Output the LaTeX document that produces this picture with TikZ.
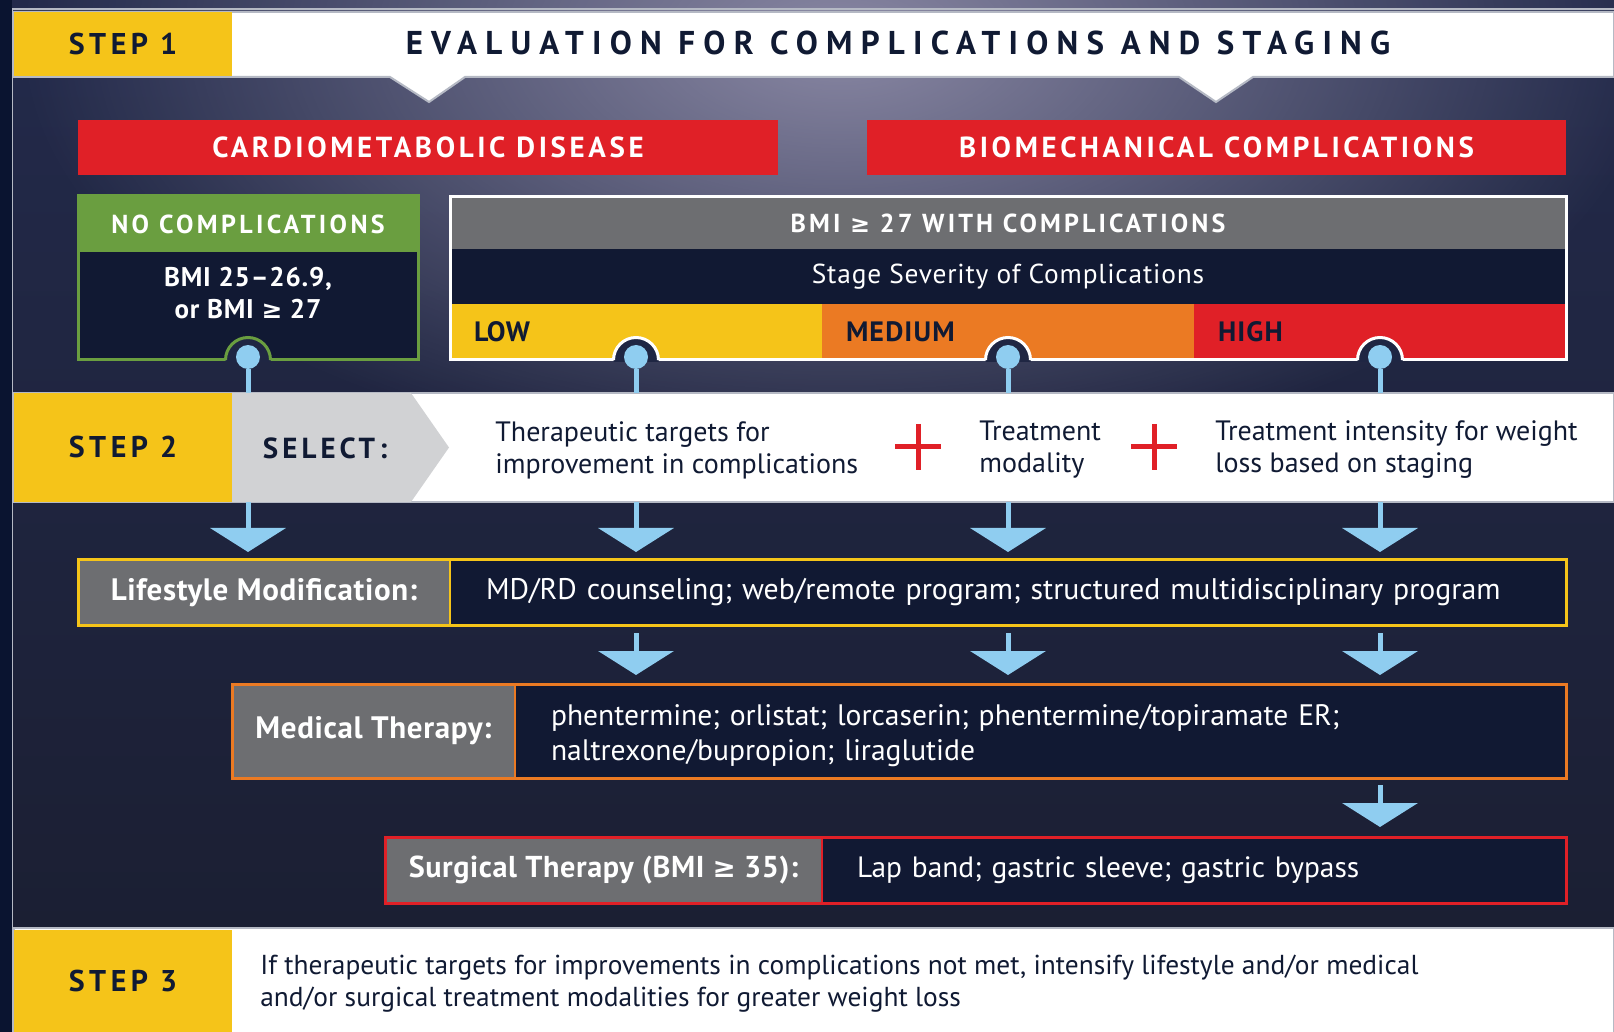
\documentclass[tikz,border=0pt]{standalone}
\usepackage{fontspec}
\setmainfont{PT Sans}
\newfontfamily\geqfont{DejaVu Sans}
\newcommand\geqsign{{\geqfont\addfontfeature{Scale=0.92}≥}}
\usetikzlibrary{positioning,arrows.meta,fadings}

\definecolor{bgtop}{HTML}{232A4B}
\definecolor{bgbottom}{HTML}{1B1F33}
\definecolor{notchc}{HTML}{1F2643}
\definecolor{glowc}{HTML}{8A88A4}
\definecolor{edgenavy}{HTML}{0A1430}
\definecolor{boxfill}{HTML}{111933}
\definecolor{inkc}{HTML}{101A33}
\definecolor{stepyellow}{HTML}{F5C419}
\definecolor{alertred}{HTML}{E02027}
\definecolor{okgreen}{HTML}{6A9E40}
\definecolor{headgray}{HTML}{6D6E71}
\definecolor{midorange}{HTML}{EB7A23}
\definecolor{skyblue}{HTML}{8FCDF0}
\definecolor{selgray}{HTML}{D1D2D4}
\definecolor{rulegray}{HTML}{B5B9C4}

\tikzfading[name=glowfade, inner color=transparent!0, outer color=transparent!100]

\tikzset{
  cell/.style={anchor=north west, inner sep=0pt, outer sep=0pt},
  steplbl/.style={cell, fill=stepyellow, text=inkc, minimum width=109pt,
    font=\fontsize{15}{17}\selectfont\bfseries\addfontfeature{LetterSpace=15}},
  capsbar/.style={cell, text=white,
    font=\fontsize{14.5}{16}\selectfont\bfseries\addfontfeature{LetterSpace=12.5}},
  darktxt/.style={inner sep=0pt, anchor=west, align=left, text=inkc,
    font=\fontsize{14}{16}\selectfont},
  tierlbl/.style={cell, text=inkc, inner xsep=12pt, text width=162pt, align=left,
    minimum height=28pt, font=\fontsize{14}{16}\selectfont\bfseries\addfontfeature{LetterSpace=4}},
  grylbl/.style={cell, fill=headgray, text=white,
    font=\fontsize{15.5}{18}\selectfont\bfseries\addfontfeature{LetterSpace=2}},
  darkcell/.style={cell, fill=boxfill, text=white, align=left},
  dot/.style={circle, fill=skyblue, inner sep=0pt, minimum size=12pt},
  stem/.style={draw=skyblue, line width=2.5pt},
  flow/.style={stem, -{Triangle[width=37.5pt,length=12pt]}},
  plus/.style={draw=alertred, line width=2.5pt}
}

\begin{document}
\begin{tikzpicture}[x=0.5pt, y=-0.5pt]
\useasboundingbox (0,0) rectangle (1614,1032);

% backdrop
\shade[top color=bgtop, bottom color=bgbottom] (0,0) rectangle (1614,930);
\fill[glowc, path fading=glowfade] (840,40) ellipse [x radius=820, y radius=430];
\fill[edgenavy] (0,0) rectangle (12,1032);
\draw[rulegray, line width=0.8pt] (12.5,1032) -- (12.5,9) -- (1614,9);

% step 1
\draw[fill=white, draw=rulegray, line width=1pt] (14,12) -- (1614,12) -- (1614,77) -- (1253,77)
  -- (1216,102) -- (1179,77) -- (465,77) -- (429,102) -- (390,77) -- (14,77) -- cycle;
\node[steplbl, minimum height=32pt] (step1) at (14,12) {STEP 1};
\node[text=inkc, inner sep=0pt, font=\fontsize{16.5}{18}\selectfont\bfseries\addfontfeature{LetterSpace=25}]
  (title) at (898,43) {EVALUATION FOR COMPLICATIONS AND STAGING};

\node[capsbar, fill=alertred, minimum width=350pt, minimum height=27.5pt] (cardio) at (78,120) {CARDIOMETABOLIC DISEASE};
\node[capsbar, fill=alertred, minimum width=349.5pt, minimum height=27.5pt] (biomech) at (867,120) {BIOMECHANICAL COMPLICATIONS};

% no complications
\node[capsbar, fill=okgreen, minimum width=170pt, minimum height=28pt,
  font=\fontsize{13}{15}\selectfont\bfseries\addfontfeature{LetterSpace=13}] (nohead) at (78,196) {NO COMPLICATIONS};
\node[cell, fill=boxfill, minimum width=170pt, minimum height=54pt] (nobody) at (78,252) {};
\node[text=white, inner sep=0pt, align=center, font=\fontsize{13.5}{16}\selectfont\bfseries\addfontfeature{LetterSpace=3}]
  (range) at (248,293) {BMI 25–26.9,\\or BMI \geqsign\ 27};
\draw[okgreen, line width=1.5pt] (nohead.north west) rectangle (nobody.south east);

% with complications
\node[capsbar, fill=headgray, minimum width=558pt, minimum height=26pt,
  font=\fontsize{13}{15}\selectfont\bfseries\addfontfeature{LetterSpace=12}] (bmihead) at (450,197) {BMI \geqsign\ 27 WITH COMPLICATIONS};
\node[cell, fill=boxfill, text=white, minimum width=558pt, minimum height=27.5pt,
  font=\fontsize{13.7}{16}\selectfont\addfontfeature{LetterSpace=3}] (stage) at (450,249) {Stage Severity of Complications};
\node[tierlbl, fill=stepyellow] (low) at (450,304) {LOW};
\node[tierlbl, fill=midorange] (medium) at (822,304) {MEDIUM};
\node[tierlbl, fill=alertred] (high) at (1194,304) {HIGH};
\draw[white, line width=1.5pt] (bmihead.north west) rectangle (high.south east);

% notches and dots
\foreach \px/\rim/\nm in {248/okgreen/dot0, 636/white/dot1, 1008/white/dot2, 1380/white/dot3}{
  \fill[notchc] (\px-22.5,362) -- (\px-22.5,360) arc[start angle=180, end angle=0, radius=11.25pt] -- (\px+22.5,362) -- cycle;
  \draw[\rim, line width=1.5pt] (\px-22.5,360) arc[start angle=180, end angle=0, radius=11.25pt];
  \node[dot] (\nm) at (\px,357) {};
}

% step 2
\node[cell, fill=white, draw=rulegray, line width=1pt, minimum width=800pt, minimum height=54.5pt] (band2) at (14,393) {};
\foreach \nm in {dot0,dot1,dot2,dot3}
  \draw[stem] (\nm) -- (\nm |- band2.north);
\node[steplbl, minimum height=54.5pt] (step2) at (14,393) {STEP 2};
\fill[selgray] (232,393) -- (411,393) -- (449,447.5) -- (411,502) -- (232,502) -- cycle;
\node[text=inkc, inner sep=0pt, font=\fontsize{14.5}{16}\selectfont\bfseries\addfontfeature{LetterSpace=14}] (select) at (325,448) {SELECT:};
\node[darktxt] (targets) at (495,450) {Therapeutic targets for\\improvement in complications};
\node[darktxt] (modality) at (979,450) {Treatment\\modality};
\node[darktxt] (intensity) at (1215,450) {Treatment intensity for weight\\loss based on staging};
\draw[plus] (918,424) -- (918,470) (895,447) -- (941,447);
\draw[plus] (1154,424) -- (1154,470) (1131,447) -- (1177,447);

% lifestyle
\node[grylbl, minimum width=186pt, minimum height=32.5pt] (lifelbl) at (78,560) {Lifestyle Modification:};
\node[darkcell, minimum height=32.5pt, text width=522pt, inner xsep=18pt,
  font=\fontsize{14.9}{17}\selectfont] (life) at (450,560) {MD/RD counseling; web/remote program; structured multidisciplinary program};
\draw[stepyellow, line width=1.5pt] (lifelbl.north west) rectangle (life.south east);
\draw[stepyellow, line width=1pt] (lifelbl.north east) -- (lifelbl.south east);

% medical
\node[grylbl, minimum width=141.5pt, minimum height=47pt] (medlbl) at (232,684) {Medical Therapy:};
\node[darkcell, minimum height=47pt, text width=489.5pt, inner xsep=18pt,
  font=\fontsize{14.8}{17.5}\selectfont] (med) at (515,684) {\rule{0pt}{15pt}phentermine; orlistat; lorcaserin; phentermine/topiramate ER;\\naltrexone/bupropion; liraglutide};
\draw[midorange, line width=1.5pt] (medlbl.north west) rectangle (med.south east);
\draw[midorange, line width=1pt] (medlbl.north east) -- (medlbl.south east);

% surgical
\node[grylbl, minimum width=218.5pt, minimum height=33pt,
  font=\fontsize{15.1}{18}\selectfont\bfseries\addfontfeature{LetterSpace=2}] (surglbl) at (385,837) {Surgical Therapy (BMI \geqsign\ 35):};
\node[darkcell, minimum height=33pt, text width=337pt, inner xsep=17.5pt,
  font=\fontsize{14.7}{17}\selectfont] (surg) at (822,837) {Lap band; gastric sleeve; gastric bypass};
\draw[alertred, line width=1.5pt] (surglbl.north west) rectangle (surg.south east);
\draw[alertred, line width=1pt] (surglbl.north east) -- (surglbl.south east);

% arrows
\draw[flow, shorten >=4pt] (dot0 |- band2.south) -- (dot0 |- lifelbl.north);
\foreach \nm in {dot1,dot2,dot3}{
  \draw[flow, shorten >=4pt] (\nm |- band2.south) -- (\nm |- life.north);
  \draw[flow, shorten <=4pt, shorten >=4.5pt] (\nm |- life.south) -- (\nm |- med.north);
}
\draw[flow, shorten <=3.5pt, shorten >=5pt] (dot3 |- med.south) -- (dot3 |- surg.north);

% step 3
\node[cell, fill=white, draw=rulegray, line width=1pt, minimum width=800pt, minimum height=53pt] (band3) at (14,928) {};
\node[steplbl, minimum height=51pt] (step3) at (14,930) {STEP 3};
\node[darktxt, font=\fontsize{13.7}{16}\selectfont] (retry) at (260,984) {If therapeutic targets for improvements in complications not met, intensify lifestyle and/or medical\\and/or surgical treatment modalities for greater weight loss};
\end{tikzpicture}
\end{document}
